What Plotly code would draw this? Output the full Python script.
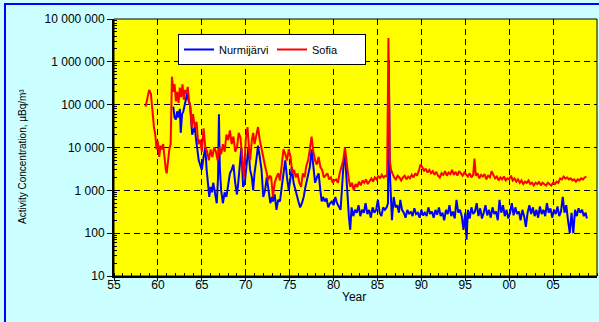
import plotly.graph_objects as go

# ---------------- data ----------------
sofia_years = [
    1958.6, 1958.8, 1959.0, 1959.2, 1959.4, 1959.55, 1959.7, 1959.85, 1960.0, 1960.15,
    1960.3, 1960.45, 1960.6, 1960.75, 1960.9, 1961.0, 1961.15, 1961.3, 1961.45, 1961.6,
    1961.75, 1961.9, 1962.05, 1962.2, 1962.35, 1962.5, 1962.65, 1962.8, 1962.95, 1963.1,
    1963.25, 1963.4, 1963.55, 1963.7, 1963.85, 1964.0, 1964.2, 1964.4, 1964.6, 1964.8,
    1965.0, 1965.2, 1965.4, 1965.6, 1965.8, 1966.0, 1966.2, 1966.4, 1966.6, 1966.8,
    1967.0, 1967.2, 1967.4, 1967.6, 1967.8, 1968.0, 1968.2, 1968.4, 1968.6, 1968.8,
    1969.0, 1969.2, 1969.4, 1969.6, 1969.8, 1970.0, 1970.2, 1970.4, 1970.5, 1970.7,
    1970.85, 1971.0, 1971.2, 1971.4, 1971.6, 1971.8, 1972.0, 1972.2, 1972.4, 1972.55,
    1972.75, 1972.9, 1973.1, 1973.3, 1973.5, 1973.7, 1973.9, 1974.1, 1974.3, 1974.5,
    1974.7, 1974.9, 1975.1, 1975.3, 1975.5, 1975.7, 1975.9, 1976.1, 1976.3, 1976.5,
    1976.7, 1976.9, 1977.1, 1977.3, 1977.5, 1977.7, 1977.9, 1978.1, 1978.3, 1978.5,
    1978.7, 1978.9, 1979.1, 1979.3, 1979.5, 1979.7, 1979.9, 1980.1, 1980.3, 1980.5,
    1980.7, 1980.9, 1981.1, 1981.3, 1981.5, 1981.7, 1981.9, 1982.1, 1982.3, 1982.5,
    1982.7, 1982.9, 1983.1, 1983.3, 1983.5, 1983.7, 1983.9, 1984.1, 1984.3, 1984.5,
    1984.7, 1984.9, 1985.1, 1985.3, 1985.5, 1985.7, 1985.9, 1986.1, 1986.25, 1986.4,
    1986.55, 1986.7, 1986.9, 1987.1, 1987.3, 1987.5, 1987.7, 1987.9, 1988.1, 1988.3,
    1988.5, 1988.7, 1988.9, 1989.1, 1989.3, 1989.5, 1989.7, 1989.9, 1990.1, 1990.3,
    1990.5, 1990.7, 1990.9, 1991.1, 1991.3, 1991.5, 1991.7, 1991.9, 1992.1, 1992.3,
    1992.5, 1992.7, 1992.9, 1993.1, 1993.3, 1993.5, 1993.7, 1993.9, 1994.1, 1994.3,
    1994.5, 1994.7, 1994.9, 1995.1, 1995.3, 1995.5, 1995.7, 1995.9, 1996.05, 1996.2,
    1996.4, 1996.6, 1996.8, 1997.0, 1997.2, 1997.4, 1997.6, 1997.8, 1998.0, 1998.2,
    1998.4, 1998.6, 1998.8, 1999.0, 1999.2, 1999.4, 1999.6, 1999.8, 2000.0, 2000.2,
    2000.4, 2000.6, 2000.8, 2001.0, 2001.2, 2001.4, 2001.6, 2001.8, 2002.0, 2002.2,
    2002.4, 2002.6, 2002.8, 2003.0, 2003.2, 2003.4, 2003.6, 2003.8, 2004.0, 2004.2,
    2004.4, 2004.6, 2004.8, 2005.0, 2005.2, 2005.4, 2005.6, 2005.8, 2006.0, 2006.2,
    2006.4, 2006.6, 2006.8, 2007.0, 2007.2, 2007.4, 2007.6, 2007.8, 2008.0, 2008.2,
    2008.4, 2008.6, 2008.8,
]
sofia = [
    90000, 150000, 220000, 180000, 60000, 30000, 20000, 9000, 14000, 6000,
    11000, 9000, 12000, 5000, 3000, 2500, 5000, 9000, 12000, 450000,
    200000, 300000, 120000, 200000, 110000, 250000, 150000, 300000, 130000, 220000,
    180000, 260000, 120000, 90000, 30000, 60000, 30000, 40000, 12000, 15000,
    8000, 28000, 10000, 8000, 5000, 9000, 6000, 10000, 8000, 5000,
    10000, 7000, 12000, 8000, 20000, 15000, 25000, 12000, 18000, 8000,
    10000, 22000, 17000, 6000, 2000, 15000, 30000, 8000, 5000, 15000,
    22000, 12000, 20000, 30000, 15000, 9000, 5000, 3700, 2500, 1700,
    2200, 2000, 700, 1500, 2000, 2500, 1700, 4000, 9000, 7000,
    5000, 9000, 6000, 2500, 3000, 2000, 2500, 1500, 1200, 2500,
    2000, 3700, 5000, 9000, 18000, 8000, 5000, 4000, 6000, 3500,
    3000, 2000, 2200, 2500, 1800, 2000, 1500, 1700, 1800, 1500,
    2500, 3700, 5000, 10000, 4000, 2000, 1200, 1500, 1000, 1400,
    1200, 1600, 1300, 1700, 1500, 1800, 1400, 1700, 1900, 1600,
    2000, 1800, 2200, 1900, 2300, 2000, 2200, 2100, 3600000, 5000,
    3000, 2500, 2000, 1800, 2200, 2000, 1700, 2000, 2200, 1800,
    2100, 1900, 2300, 2000, 2500, 2200, 2800, 4000, 3500, 2800,
    3200, 2600, 3000, 2500, 2800, 2300, 2700, 2200, 2000, 2500,
    2300, 2800, 2200, 2600, 2400, 3000, 2300, 2700, 2200, 2800,
    2500, 2200, 2600, 2300, 2100, 2500, 2000, 2300, 5500, 2200,
    2500, 1900, 2300, 2100, 2400, 1800, 2200, 2000, 2800, 2300,
    1900, 2100, 1700, 2000, 1800, 2100, 1700, 1900, 1800, 2200,
    1700, 1900, 1600, 1800, 1500, 1700, 1400, 1600, 1500, 1700,
    1400, 1500, 1300, 1500, 1400, 1600, 1300, 1500, 1400, 1300,
    1500, 1400, 1300, 1500, 1400, 1600, 1500, 1900, 1800, 2100,
    1900, 2000, 1800, 1900, 1700, 1800, 1600, 1800, 1700, 1900,
    1800, 2000, 2100,
]

nurmi_years = [
    1961.75, 1961.9, 1962.05, 1962.2, 1962.35, 1962.5, 1962.6, 1962.75, 1962.9, 1963.05,
    1963.2, 1963.35, 1963.5, 1963.65, 1963.8, 1963.9, 1964.05, 1964.2, 1964.35, 1964.5,
    1964.65, 1964.8, 1965.0, 1965.2, 1965.4, 1965.55, 1965.7, 1965.85, 1966.0, 1966.15,
    1966.3, 1966.5, 1966.7, 1966.85, 1966.95, 1967.05, 1967.2, 1967.4, 1967.6, 1967.8,
    1968.0, 1968.2, 1968.4, 1968.6, 1968.8, 1969.0, 1969.15, 1969.3, 1969.5, 1969.7,
    1969.9, 1970.1, 1970.3, 1970.5, 1970.7, 1970.85, 1971.0, 1971.2, 1971.4, 1971.6,
    1971.8, 1972.0, 1972.2, 1972.4, 1972.6, 1972.8, 1973.0, 1973.1, 1973.3, 1973.5,
    1973.7, 1973.9, 1974.1, 1974.3, 1974.5, 1974.7, 1974.9, 1975.1, 1975.25, 1975.45,
    1975.6, 1975.8, 1976.0, 1976.2, 1976.4, 1976.6, 1976.8, 1976.95, 1977.1, 1977.3,
    1977.5, 1977.7, 1977.9, 1978.1, 1978.3, 1978.5, 1978.65, 1978.8, 1979.0, 1979.2,
    1979.4, 1979.6, 1979.8, 1980.0, 1980.2, 1980.4, 1980.6, 1980.8, 1981.0, 1981.15,
    1981.3, 1981.45, 1981.6, 1981.75, 1981.9, 1982.05, 1982.25, 1982.45, 1982.65, 1982.85,
    1983.05, 1983.25, 1983.45, 1983.65, 1983.85, 1984.05, 1984.25, 1984.45, 1984.65, 1984.85,
    1985.05, 1985.25, 1985.45, 1985.65, 1985.85, 1986.05, 1986.2, 1986.3, 1986.4, 1986.5,
    1986.65, 1986.85, 1987.05, 1987.25, 1987.45, 1987.6, 1987.8, 1988.0, 1988.2, 1988.4,
    1988.6, 1988.8, 1989.0, 1989.2, 1989.4, 1989.6, 1989.8, 1990.0, 1990.2, 1990.4,
    1990.6, 1990.8, 1991.0, 1991.2, 1991.4, 1991.6, 1991.8, 1992.0, 1992.2, 1992.4,
    1992.6, 1992.8, 1993.0, 1993.2, 1993.4, 1993.6, 1993.8, 1994.0, 1994.2, 1994.4,
    1994.6, 1994.8, 1995.0, 1995.15, 1995.3, 1995.5, 1995.7, 1995.9, 1996.1, 1996.3,
    1996.5, 1996.7, 1996.9, 1997.1, 1997.3, 1997.5, 1997.7, 1997.9, 1998.1, 1998.3,
    1998.5, 1998.7, 1998.9, 1999.1, 1999.3, 1999.5, 1999.7, 1999.9, 2000.1, 2000.3,
    2000.5, 2000.7, 2000.9, 2001.1, 2001.3, 2001.5, 2001.7, 2001.9, 2002.1, 2002.3,
    2002.5, 2002.7, 2002.9, 2003.1, 2003.3, 2003.5, 2003.7, 2003.9, 2004.1, 2004.3,
    2004.5, 2004.7, 2004.9, 2005.1, 2005.3, 2005.5, 2005.7, 2005.9, 2006.1, 2006.3,
    2006.5, 2006.7, 2006.9, 2007.1, 2007.3, 2007.5, 2007.7, 2007.9, 2008.1, 2008.3,
    2008.5, 2008.7, 2008.85,
]
nurmi = [
    90000, 50000, 45000, 70000, 50000, 80000, 22000, 60000, 70000, 100000,
    150000, 190000, 120000, 100000, 40000, 20000, 25000, 30000, 15000, 8000,
    5000, 4000, 3000, 6000, 10000, 3000, 1100, 700, 1200, 900,
    1500, 800, 500, 2000, 60000, 3500, 1000, 500, 900, 700,
    1500, 2500, 3000, 4000, 1500, 800, 1500, 3000, 10000, 1200,
    1500, 4000, 10000, 3000, 2000, 1000, 2500, 5000, 11000, 6000,
    3000, 700, 1000, 2000, 900, 500, 700, 550, 800, 350,
    600, 550, 1200, 2500, 5000, 2000, 1000, 2000, 3500, 1500,
    1200, 800, 550, 400, 500, 700, 1200, 1700, 2500, 3500,
    9000, 3000, 1500, 2000, 2500, 1000, 550, 700, 550, 650,
    400, 500, 550, 450, 700, 500, 400, 350, 1500, 4500,
    7000, 2000, 500, 240, 120, 400, 250, 350, 300, 450,
    250, 350, 300, 500, 280, 350, 230, 400, 300, 350,
    600, 300, 250, 400, 350, 400, 500, 1100000, 3000, 800,
    200, 700, 400, 450, 300, 600, 350, 300, 230, 350,
    280, 320, 250, 380, 280, 300, 230, 350, 260, 300,
    250, 400, 280, 320, 230, 350, 270, 400, 250, 300,
    200, 350, 280, 450, 250, 320, 220, 600, 300, 350,
    250, 120, 300, 70, 350, 220, 400, 280, 320, 500,
    250, 380, 220, 300, 450, 260, 350, 230, 400, 280,
    320, 200, 600, 300, 450, 250, 350, 220, 300, 500,
    260, 400, 280, 320, 200, 350, 250, 140, 300, 450,
    280, 400, 250, 350, 230, 420, 280, 350, 250, 500,
    300, 380, 230, 350, 280, 420, 250, 320, 700, 300,
    450, 200, 100, 300, 100, 350, 250, 380, 300, 350,
    250, 300, 220,
]

x_tick_years = [1955, 1960, 1965, 1970, 1975, 1980, 1985, 1990, 1995, 2000, 2005]
x_tick_labels = ["55", "60", "65", "70", "75", "80", "85", "90", "95", "00", "05"]
y_tick_vals = [10, 100, 1000, 10000, 100000, 1000000, 10000000]
y_tick_labels = ["10", "100", "1 000", "10 000", "100 000", "1 000 000", "10 000 000"]

# ---------------- figure ----------------
W, H = 599, 322
L, R, T, B = 114, 2, 19, 46
pw, ph = W - L - R, H - T - B

def px(xp):
    return (xp - L) / pw

def py(yp):
    return (H - B - yp) / ph

FONT = "Arial, Liberation Sans, sans-serif"

fig = go.Figure()
fig.add_trace(go.Scatter(x=nurmi_years, y=nurmi, mode="lines", name="Nurmijärvi",
                         line=dict(color="#0000FF", width=2)))
fig.add_trace(go.Scatter(x=sofia_years, y=sofia, mode="lines", name="Sofia",
                         line=dict(color="#FF0000", width=2)))

minor_y = [m * 10 ** e for e in range(1, 7) for m in range(2, 10)]

fig.update_layout(
    width=W, height=H,
    margin=dict(l=L, r=R, t=T, b=B),
    paper_bgcolor="#CCFFFF",
    plot_bgcolor="#FFFF00",
    font=dict(family=FONT, color="#000000", size=12),
    showlegend=True,
    legend=dict(orientation="h", x=px(178), y=py(34), xanchor="left", yanchor="top",
                bgcolor="#FFFFFF", bordercolor="#000000", borderwidth=1,
                font=dict(size=11, family=FONT), itemwidth=30, entrywidth=48,
                tracegroupgap=0),
    xaxis=dict(range=[1955, 2010], tickmode="array", tickvals=x_tick_years,
               ticktext=x_tick_labels, ticks="outside", ticklen=3, tickwidth=1,
               tickcolor="#000000", showline=True, linecolor="#000000", linewidth=2,
               showgrid=True, gridcolor="#000000", gridwidth=1, griddash="6px,4px",
               zeroline=False, tickfont=dict(size=12), ticklabelstandoff=-6,
               minor=dict(dtick=1, ticks="inside", ticklen=3, tickcolor="#000000",
                          showgrid=False)),
    yaxis=dict(type="log", range=[1, 7], tickmode="array", tickvals=y_tick_vals,
               ticktext=y_tick_labels, ticks="outside", ticklen=5, tickwidth=1,
               tickcolor="#000000", showline=True, linecolor="#000000", linewidth=2,
               showgrid=True, gridcolor="#000000", gridwidth=1, griddash="6px,4px",
               zeroline=False, tickfont=dict(size=12),
               minor=dict(tickmode="array", tickvals=minor_y, ticks="inside", ticklen=3,
                          tickcolor="#000000", showgrid=False)),
    shapes=[
        dict(type="rect", xref="paper", yref="paper", x0=0, x1=1, y0=0, y1=1,
             line=dict(color="#000000", width=1), layer="above"),
        dict(type="rect", xref="paper", yref="paper", x0=px(5), x1=px(620),
             y0=py(340), y1=py(4), line=dict(color="#0000FF", width=2), layer="above"),
    ],
    annotations=[
        dict(text="Activity Concentration, µBq/m³", xref="paper", yref="paper",
             x=px(22), y=py(157), textangle=-90, showarrow=False,
             xanchor="center", yanchor="middle", font=dict(size=10, family=FONT)),
        dict(text="Year", xref="paper", yref="paper", x=px(354), y=py(297),
             showarrow=False, xanchor="center", yanchor="middle",
             font=dict(size=12, family=FONT)),
    ],
)

fig.write_html("out.html", config={"displayModeBar": False},
               post_script="document.body.style.margin='0';document.body.style.overflow='hidden';")
